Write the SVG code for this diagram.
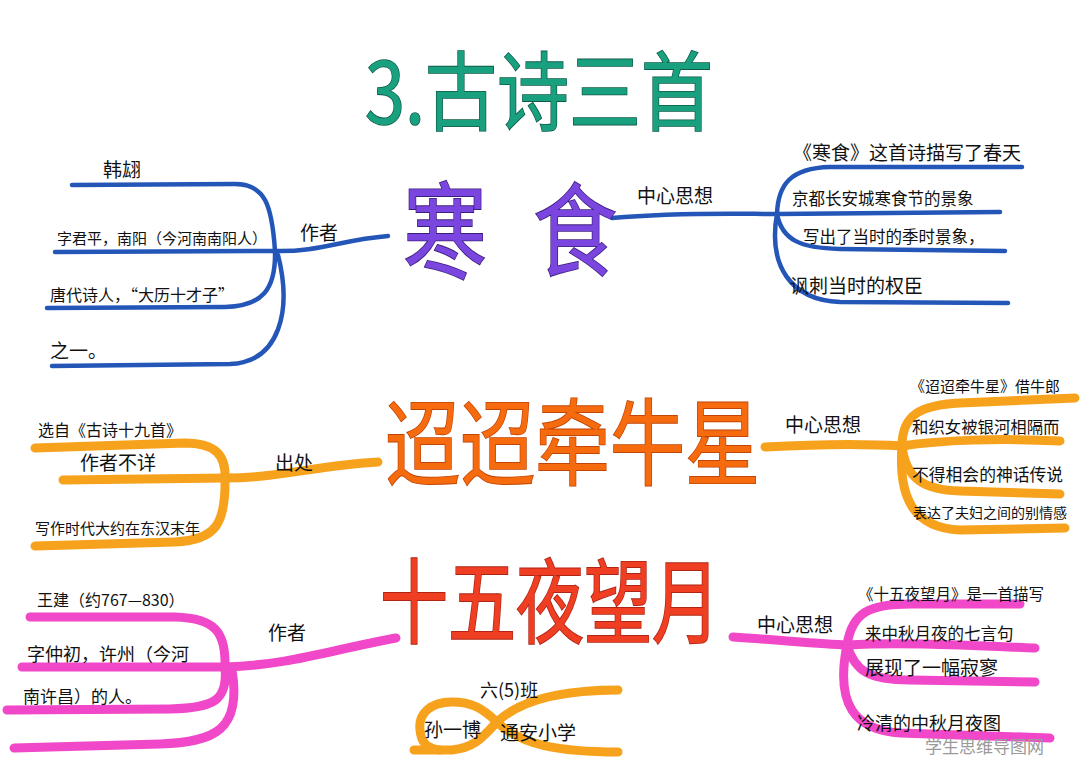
<svg xmlns="http://www.w3.org/2000/svg" width="1080" height="768" viewBox="0 0 1080 768">
<style>
.t{font-family:"Noto Sans CJK SC","Noto Sans",sans-serif;fill:#111}
.big{font-family:"Noto Sans CJK SC","Noto Sans",sans-serif;font-weight:400;stroke-width:1.4;paint-order:stroke}
.blue{fill:none;stroke:#2456b8;stroke-width:4.5;stroke-linecap:round;stroke-linejoin:round}
.org{fill:none;stroke:#f7a21c;stroke-width:9;stroke-linecap:round;stroke-linejoin:round}
.pink{fill:none;stroke:#f048c8;stroke-width:9;stroke-linecap:round;stroke-linejoin:round}
</style>
<rect width="1080" height="768" fill="#ffffff"/>
<g id="connectors">
  <path class="blue" d="M388,236 C340,240 320,252 275,251"/>
  <path class="blue" d="M275,251 C272,205 265,184 235,184 L72,185"/>
  <path class="blue" d="M275,251 L55,252"/>
  <path class="blue" d="M275,251 C276,290 262,306 225,307 L47,308"/>
  <path class="blue" d="M278,255 C292,310 280,362 230,364 L52,366"/>
  <path class="blue" d="M612,218 C680,212 740,214 777,214"/>
  <path class="blue" d="M777,214 C778,185 790,168 830,167 L1022,167"/>
  <path class="blue" d="M777,214 L1000,212"/>
  <path class="blue" d="M777,214 C782,240 800,248 840,249 L1005,251"/>
  <path class="blue" d="M777,214 C768,265 790,300 840,302 L1008,303"/>
  <path class="org" d="M378,462 C320,465 280,478 225,478"/>
  <path class="org" d="M225,478 C226,455 215,443 185,443 L35,448"/>
  <path class="org" d="M225,478 L63,480"/>
  <path class="org" d="M225,478 C226,525 215,540 175,542 L35,546"/>
  <path class="org" d="M765,447 C820,444 870,444 902,446"/>
  <path class="org" d="M902,446 C902,415 920,405 960,403 L1075,398"/>
  <path class="org" d="M902,446 C940,440 1000,438 1060,441"/>
  <path class="org" d="M902,446 C906,480 925,490 960,491 L1060,494"/>
  <path class="org" d="M902,446 C898,500 915,528 960,530 L1065,528"/>
  <path class="pink" d="M396,638 C330,650 290,665 225,667"/>
  <path class="pink" d="M225,667 C226,632 215,618 175,617 L30,617"/>
  <path class="pink" d="M225,667 L22,667"/>
  <path class="pink" d="M225,667 C228,700 215,708 170,709 L7,710"/>
  <path class="pink" d="M232,670 C242,730 215,742 160,744 L14,748"/>
  <path class="pink" d="M733,637 C780,640 820,644 847,645"/>
  <path class="pink" d="M847,645 C852,612 870,604 910,604 L1020,604"/>
  <path class="pink" d="M847,645 C900,642 960,645 1035,648"/>
  <path class="pink" d="M847,645 C855,672 870,680 910,680 L1035,682"/>
  <path class="pink" d="M847,645 C835,705 855,730 900,733 L1050,738"/>
  <path class="org" d="M618,690 C560,690 520,700 497,722 C482,738 474,748 452,750 L414,750"/>
  <path class="org" d="M618,752 C560,752 520,745 497,722 C482,708 472,702 452,702 C430,702 418,714 420,730 C421,742 426,748 440,750"/>
</g>
<g id="title"><text class="big" transform="translate(365,124) scale(1,1.2)" x="0" y="0" font-size="72" fill="#19a07f" stroke="#0d5a47">3.古诗三首</text></g>
<g id="poem1">
  <text class="big" transform="translate(403,270) scale(1,1.25)" x="0" y="0" font-size="84" fill="#7b46e0" stroke="#3a1f7a">寒</text>
  <text class="big" transform="translate(533,268) scale(1,1.2)" x="0" y="0" font-size="84" fill="#7b46e0" stroke="#3a1f7a">食</text>
</g>
<g id="poem1-author">
  <text class="t" x="300" y="240" font-size="19">作者</text>
  <text class="t" x="103" y="177" font-size="19">韩翃</text>
  <text class="t" x="57" y="244" font-size="15">字君平，南阳（今河南南阳人）</text>
  <text class="t" x="50" y="301" font-size="16">唐代诗人，“大历十才子”</text>
  <text class="t" x="50" y="358" font-size="19">之一。</text>
</g>
<g id="poem1-idea">
  <text class="t" x="637" y="203" font-size="19">中心思想</text>
  <text class="t" x="793" y="160" font-size="19">《寒食》这首诗描写了春天</text>
  <text class="t" x="792" y="205" font-size="16.5">京都长安城寒食节的景象</text>
  <text class="t" x="803" y="243" font-size="16.5">写出了当时的季时景象，</text>
  <text class="t" x="790" y="293" font-size="19">讽刺当时的权臣</text>
</g>
<g id="poem2"><text class="big" transform="translate(385,478) scale(1,1.25)" x="0" y="0" font-size="75" fill="#f66b0d" stroke="#c04506">迢迢牵牛星</text></g>
<g id="poem2-source">
  <text class="t" x="275" y="470" font-size="19">出处</text>
  <text class="t" x="38" y="436" font-size="16">选自《古诗十九首》</text>
  <text class="t" x="80" y="470" font-size="19">作者不详</text>
  <text class="t" x="35" y="534" font-size="15">写作时代大约在东汉末年</text>
</g>
<g id="poem2-idea">
  <text class="t" x="785" y="432" font-size="19">中心思想</text>
  <text class="t" x="910" y="392" font-size="15">《迢迢牵牛星》借牛郎</text>
  <text class="t" x="912" y="433" font-size="16.4">和织女被银河相隔而</text>
  <text class="t" x="912" y="481" font-size="16.8">不得相会的神话传说</text>
  <text class="t" x="913" y="518" font-size="14">表达了夫妇之间的别情感</text>
</g>
<g id="poem3"><text class="big" transform="translate(380,636) scale(1,1.35)" x="0" y="0" font-size="68" fill="#ef3e22" stroke="#b02416">十五夜望月</text></g>
<g id="poem3-author">
  <text class="t" x="268" y="640" font-size="19">作者</text>
  <text class="t" x="37" y="606" font-size="16">王建（约767—830）</text>
  <text class="t" x="27" y="661" font-size="18">字仲初，许州（今河</text>
  <text class="t" x="23" y="703" font-size="17">南许昌）的人。</text>
</g>
<g id="poem3-idea">
  <text class="t" x="757" y="632" font-size="19">中心思想</text>
  <text class="t" x="858" y="600" font-size="15.5">《十五夜望月》是一首描写</text>
  <text class="t" x="865" y="640" font-size="16.5">来中秋月夜的七言句</text>
  <text class="t" x="865" y="675" font-size="19">展现了一幅寂寥</text>
  <text class="t" x="857" y="730" font-size="18">冷清的中秋月夜图</text>
</g>
<g id="signature">
  <text class="t" x="480" y="697" font-size="18">六(5)班</text>
  <text class="t" x="424" y="737" font-size="19">孙一博</text>
  <text class="t" x="500" y="740" font-size="19">通安小学</text>
</g>
<text class="t" x="925" y="753" font-size="17" style="fill:#9a9a9a">学生思维导图网</text>
</svg>
